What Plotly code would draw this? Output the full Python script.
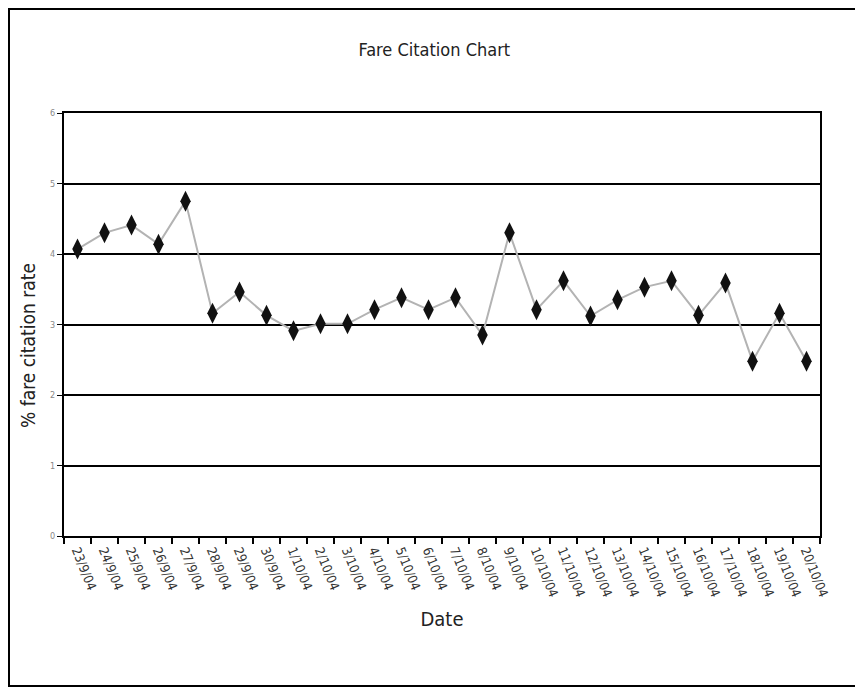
import plotly.graph_objects as go

dates = ["23/9/04", "24/9/04", "25/9/04", "26/9/04", "27/9/04", "28/9/04", "29/9/04",
         "30/9/04", "1/10/04", "2/10/04", "3/10/04", "4/10/04", "5/10/04", "6/10/04",
         "7/10/04", "8/10/04", "9/10/04", "10/10/04", "11/10/04", "12/10/04", "13/10/04",
         "14/10/04", "15/10/04", "16/10/04", "17/10/04", "18/10/04", "19/10/04", "20/10/04"]
rates = [4.07, 4.30, 4.41, 4.14, 4.75, 3.16, 3.46, 3.13, 2.91, 3.01, 3.01, 3.21, 3.38, 3.21,
         3.38, 2.85, 4.30, 3.21, 3.62, 3.12, 3.35, 3.53, 3.62, 3.13, 3.59, 2.48, 3.16, 2.48]
y_ticks = [0, 1, 2, 3, 4, 5, 6]

font = "DejaVu Sans Condensed, Liberation Sans Narrow, sans-serif"

fig = go.Figure()
fig.add_trace(go.Scatter(
    x=dates, y=rates, mode="lines+markers",
    line=dict(color="#b3b3b3", width=2),
    marker=dict(symbol="diamond-tall", size=15, color="#111111"),
))

L, T, R, B = 56, 105, 51, 163
pw, ph = 863 - L - R, 691 - T - B

fig.update_layout(
    width=863, height=691,
    margin=dict(l=L, r=R, t=T, b=B),
    paper_bgcolor="white", plot_bgcolor="white",
    showlegend=False,
    font=dict(family=font, color="#222222"),
    title=dict(text="Fare Citation Chart", x=0.494, xanchor="center", y=0.939, yanchor="middle",
               font=dict(size=18, family=font, color="#222222")),
    xaxis=dict(
        type="category", range=[-0.5, 27.5], tickson="boundaries",
        ticks="outside", ticklen=6, tickcolor="black", tickwidth=1.5,
        showline=True, linecolor="black", linewidth=2, mirror=True,
        showgrid=False, tickangle=68,
        tickfont=dict(size=13, family=font, color="#333333"),
        title=dict(text="Date", font=dict(size=20, family=font, color="#222222"), standoff=14),
    ),
    yaxis=dict(
        range=[0, 6], tickvals=y_ticks, ticks="outside", ticklen=5, tickcolor="black",
        showline=True, linecolor="black", linewidth=2, mirror=True,
        showgrid=True, gridcolor="black", gridwidth=2, zeroline=False,
        tickfont=dict(size=9, family=font, color="#888888"),
    ),
    annotations=[dict(text="% fare citation rate", textangle=-90, showarrow=False,
                      xref="paper", yref="paper", x=-36 / pw, y=190 / ph,
                      xanchor="center", yanchor="middle",
                      font=dict(size=19, family=font, color="#222222"))],
    shapes=[dict(type="rect", xref="paper", yref="paper",
                 x0=(1 - L) / pw, x1=1 + 38 / pw, y0=-150 / ph, y1=1 + (T - 1) / ph,
                 line=dict(color="black", width=2), fillcolor="rgba(0,0,0,0)", layer="below")],
)

fig.write_html("out.html")
